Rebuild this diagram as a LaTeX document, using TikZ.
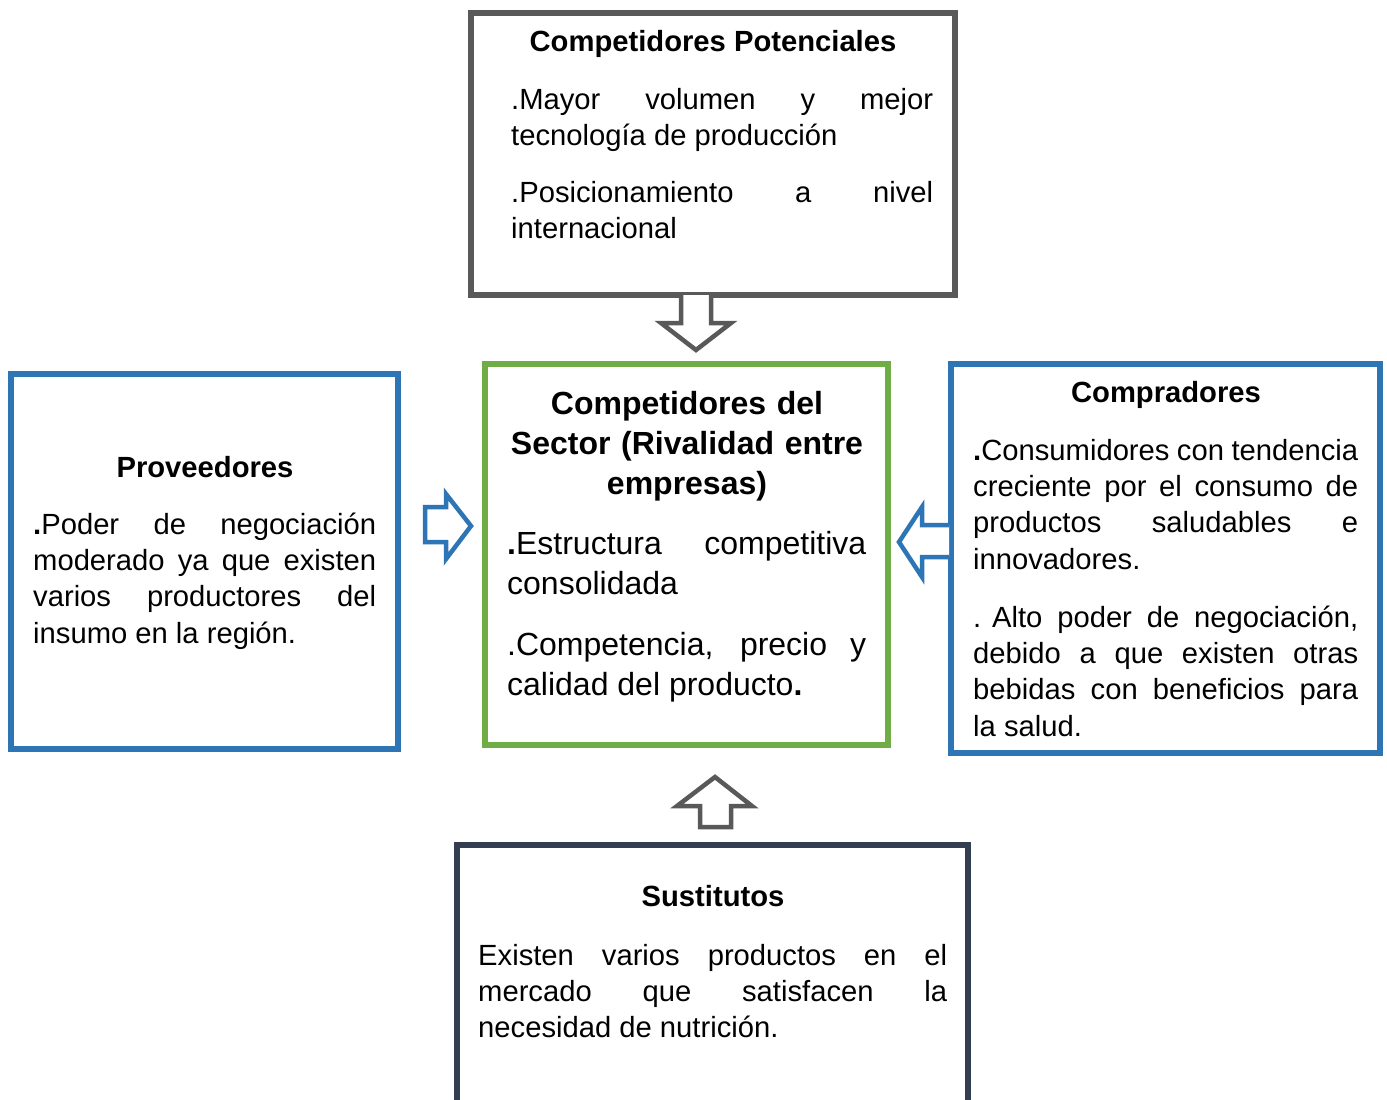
\documentclass[tikz,border=0pt]{standalone}
\usepackage{fontspec}
\setmainfont{Liberation Sans}
\definecolor{boxgray}{HTML}{595959}
\definecolor{boxgreen}{HTML}{70AD47}
\definecolor{boxblue}{HTML}{2E75B6}
\definecolor{boxnavy}{HTML}{333F50}
% no hyphenation in the justified paragraphs
\hyphenpenalty=10000
\exhyphenpenalty=10000
\tikzset{
  frame/.style={draw=#1, line width=5.5pt, fill=white},
  blockarrow/.style={draw=#1, line width=4.5pt, fill=white, line join=miter},
  title/.style={anchor=base, inner sep=0pt, font=\fontsize{29.2}{36.4}\selectfont\bfseries},
  body/.style={anchor=base west, inner sep=0pt, align=justify, text width=#1,
    font=\fontsize{29.2}{36.4}\selectfont},
  bigtitle/.style={anchor=base, inner sep=0pt, align=center, text width=400pt,
    font=\fontsize{32}{40}\selectfont\bfseries},
  bigbody/.style={anchor=base west, inner sep=0pt, align=justify, text width=#1,
    font=\fontsize{32}{40.2}\selectfont}
}
\begin{document}
\begin{tikzpicture}[x=1pt,y=-1pt]
\useasboundingbox (0,0) rectangle (1387,1100);
\clip (0,0) rectangle (1387,1100);
\fill[white] (0,0) rectangle (1387,1100);

% the five forces boxes
\draw[frame=boxgray]  (471,13)  rectangle (955,295);
\draw[frame=boxgreen] (485,364) rectangle (888,745);
\draw[frame=boxblue]  (11,374)  rectangle (398,749);
\draw[frame=boxblue]  (951,364) rectangle (1380,753);
\draw[frame=boxnavy]  (457,845) rectangle (968,1120);

% hollow block arrows pointing at the central box
\draw[blockarrow=boxgray] (681,295) -- (681,323) -- (661,323) -- (696,350)
  -- (731,323) -- (711,323) -- (711,295);
\draw[blockarrow=boxblue] (425,507) -- (446,507) -- (446,494) -- (471,526)
  -- (446,559) -- (446,542) -- (425,542) -- cycle;
\draw[blockarrow=boxblue] (949,525) -- (922,525) -- (922,507) -- (899,542)
  -- (922,577) -- (922,557) -- (949,557);
\draw[blockarrow=boxgray] (700,827) -- (700,806) -- (677,806) -- (715,777)
  -- (752,806) -- (731,806) -- (731,827) -- cycle;

% Competidores Potenciales
\node[title] (potT) at (713,51) {Competidores Potenciales};
\node[body=422pt] (potA) at (511,109) {.Mayor volumen y mejor\linebreak tecnología de producción};
\node[body=422pt] (potB) at (511,202) {.Posicionamiento a nivel\linebreak internacional};

% Competidores del sector
\node[bigtitle] (secT) at (687,414) {Competidores del\\Sector (Rivalidad entre\\empresas)};
\node[bigbody=359pt] (secA) at (507,554) {\textbf{.}Estructura competitiva\linebreak consolidada};
\node[bigbody=359pt] (secB) at (507,655) {.Competencia, precio y\linebreak calidad del producto\textbf{.}};

% Proveedores
\node[title] (provT) at (205,477) {Proveedores};
\node[body=343pt] (provA) at (33,534) {\textbf{.}Poder de negociación\linebreak moderado ya que existen\linebreak varios productores del\linebreak insumo en la región.};

% Compradores
\node[title] (compT) at (1166,402) {Compradores};
\node[body=385pt] (compA) at (973,460) {\textbf{.}Consumidores con tendencia\linebreak creciente por el consumo de\linebreak productos saludables e\linebreak innovadores.};
\node[body=385pt] (compB) at (973,627) {\mbox{. Alto} poder de negociación,\linebreak debido a que existen otras\linebreak bebidas con beneficios para\linebreak la salud.};

% Sustitutos
\node[title] (susT) at (713,906) {Sustitutos};
\node[body=469pt] (susA) at (478,965) {Existen varios productos en el\linebreak mercado que satisfacen la\linebreak necesidad de nutrición.};
\end{tikzpicture}
\end{document}
